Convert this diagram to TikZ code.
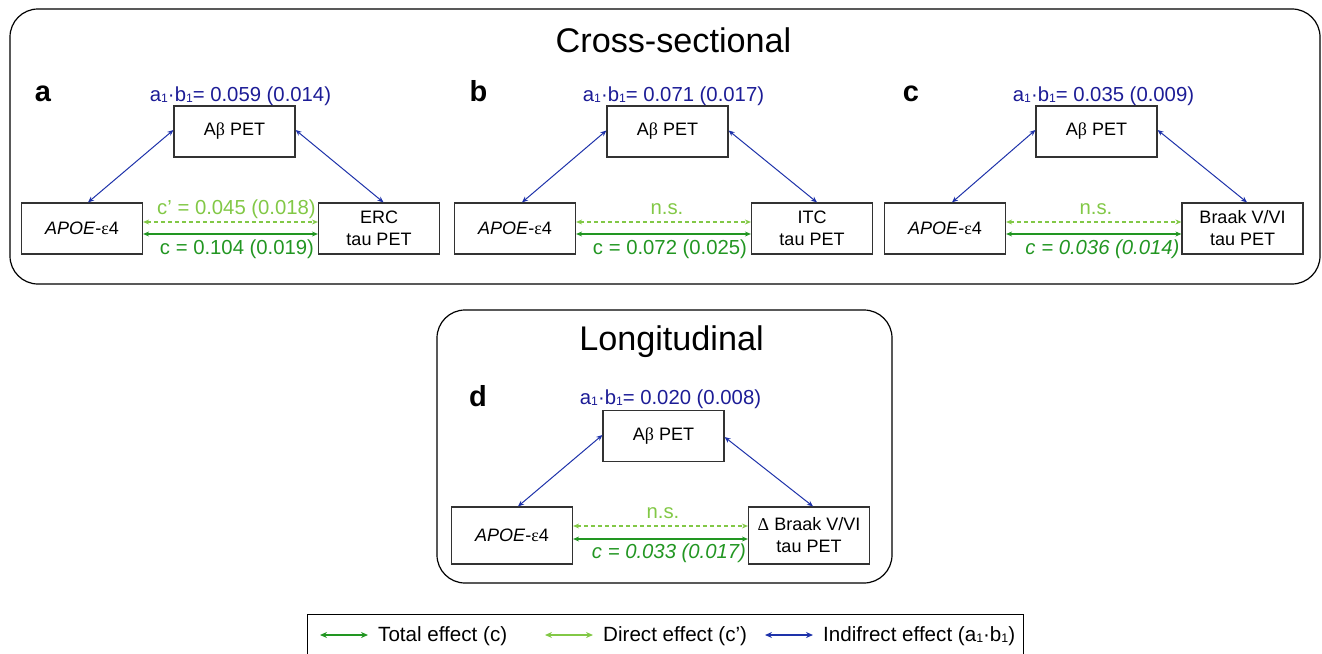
\documentclass[tikz,border=0pt]{standalone}
\usepackage{fontspec}
\usepackage{graphicx}
\setmainfont{Liberation Sans}
\newfontfamily\grk{Liberation Serif}
\usetikzlibrary{arrows.meta}
\definecolor{navy}{RGB}{28,28,150}
\definecolor{arrblue}{RGB}{30,50,170}
\definecolor{dgreen}{RGB}{34,150,34}
\definecolor{lgreen}{RGB}{130,200,70}
\definecolor{boxgray}{RGB}{50,50,50}
\newcommand\sone{\raisebox{-0.1ex}{\scalebox{0.6}{1}}}
\newcommand\abpet{A{\grk β} PET}
\newcommand\apoe{\textit{APOE}-{\grk ε}4}
\tikzset{
  fbox/.style={draw=boxgray, line width=1.2pt, minimum width=121pt, minimum height=51pt, inner sep=0pt, align=center, font=\fontsize{18}{22}\selectfont},
  lab/.style={font=\fontsize{20.3}{24}\selectfont, anchor=base, inner sep=0pt},
  letter/.style={font=\bfseries\fontsize{29}{30}\selectfont, anchor=base, inner sep=0pt},
  ttl/.style={font=\fontsize{34.2}{38}\selectfont, anchor=base, inner sep=0pt},
  tipd/.style={{Stealth[length=6pt,width=5pt]}-{Stealth[length=6pt,width=5pt]}},
  ind/.style={arrblue, line width=1pt, tipd},
  tot/.style={dgreen, line width=1.3pt, tipd},
  dir/.style={lgreen, line width=1.2pt, dash pattern=on 4pt off 3pt, tipd},
  panelframe/.style={draw=black, line width=1.2pt, rounded corners=28pt},
  legtip/.style={{Stealth[length=7pt,width=6pt]}-{Stealth[length=7pt,width=6pt]}, line width=2pt},
  leg/.style={font=\fontsize{20.6}{24}\selectfont, anchor=base west, inner sep=0pt},
}
\begin{document}
\begin{tikzpicture}[x=1pt,y=-1pt]
\useasboundingbox (0,0) rectangle (1322,653);
% frames
\draw[panelframe] (10,9) rectangle (1320,284);
\draw[panelframe] (437,310) rectangle (892,583);
\node[ttl] (t1) at (673.5,52) {Cross-sectional};
\node[ttl] (t2) at (671.5,350) {Longitudinal};

% ---- panel a
\node[letter] (la) at (43,101.5) {a};
\node[lab, navy] (ea) at (240.5,101) {a\sone·b\sone= 0.059 (0.014)};
\node[fbox] (abA) at (234.5,131.5) {\abpet};
\node[fbox] (apA) at (82,228.5) {\apoe};
\node[fbox] (tA) at (379,228.5) {ERC\\tau PET};
\draw[ind] ([xshift=6pt]apA.north) -- ([yshift=1.5pt]abA.west);
\draw[ind] ([yshift=1.5pt]abA.east) -- ([xshift=4.5pt]tA.north);
\draw[dir] ([yshift=6.5pt]apA.east) -- ([yshift=6.5pt]tA.west);
\draw[tot] ([yshift=-5.5pt]apA.east) -- ([yshift=-5.5pt]tA.west);
\node[lab, lgreen] (da) at (236.5,214) {c’ = 0.045 (0.018)};
\node[lab, dgreen] (ca) at (237,254) {c = 0.104 (0.019)};

% ---- panel b
\node[letter] (lb) at (478.5,101.5) {b};
\node[lab, navy] (eb) at (673.5,101) {a\sone·b\sone= 0.071 (0.017)};
\node[fbox] (abB) at (667.5,131.5) {\abpet};
\node[fbox] (apB) at (515,228.5) {\apoe};
\node[fbox] (tB) at (812,228.5) {ITC\\tau PET};
\draw[ind] ([xshift=7pt]apB.north) -- ([yshift=1pt]abB.west);
\draw[ind] ([yshift=1pt]abB.east) -- ([xshift=5pt]tB.north);
\draw[dir] ([yshift=6.5pt]apB.east) -- ([yshift=6.5pt]tB.west);
\draw[tot] ([yshift=-5.5pt]apB.east) -- ([yshift=-5.5pt]tB.west);
\node[lab, lgreen] (db) at (667,214.5) {n.s.};
\node[lab, dgreen] (cb) at (670,254) {c = 0.072 (0.025)};

% ---- panel c
\node[letter] (lc) at (911,101.5) {c};
\node[lab, navy] (ec) at (1103.5,101) {a\sone·b\sone= 0.035 (0.009)};
\node[fbox] (abC) at (1096.5,131.5) {\abpet};
\node[fbox] (apC) at (945,228.5) {\apoe};
\node[fbox] (tC) at (1242.5,228.5) {Braak V/VI\\tau PET};
\draw[ind] ([xshift=7pt]apC.north) -- ([yshift=1.5pt]abC.west);
\draw[ind] ([yshift=1.5pt]abC.east) -- ([xshift=4.5pt]tC.north);
\draw[dir] ([yshift=6.5pt]apC.east) -- ([yshift=6.5pt]tC.west);
\draw[tot] ([yshift=-5.5pt]apC.east) -- ([yshift=-5.5pt]tC.west);
\node[lab, lgreen] (dc) at (1096,214) {n.s.};
\node[lab, dgreen, font=\itshape\fontsize{20.3}{24}\selectfont] (cc) at (1102.5,254) {c = 0.036 (0.014)};

% ---- panel d
\node[letter] (ld) at (478,406.5) {d};
\node[lab, navy] (ed) at (670.5,404) {a\sone·b\sone= 0.020 (0.008)};
\node[fbox] (abD) at (663.5,436) {\abpet};
\node[fbox, minimum height=57pt] (apD) at (512,535.5) {\apoe};
\node[fbox, minimum height=57pt] (tD) at (809,535.5) {{\grk Δ} Braak V/VI\\tau PET};
\draw[ind] ([xshift=6pt]apD.north) -- ([yshift=1pt]abD.west);
\draw[ind] ([yshift=-1pt]abD.east) -- ([xshift=4pt]tD.north);
\draw[dir] ([yshift=9.5pt]apD.east) -- ([yshift=9.5pt]tD.west);
\draw[tot] ([yshift=-3.5pt]apD.east) -- ([yshift=-3.5pt]tD.west);
\node[lab, lgreen] (dd) at (663,518) {n.s.};
\node[lab, dgreen, font=\itshape\fontsize{20.3}{24}\selectfont] (cd) at (669,558) {c = 0.033 (0.017)};

% ---- legend
\draw[line width=1pt] (307,656) -- (307,614) -- (1023,614) -- (1023,656);
\coordinate (g1) at (320,635);
\coordinate (g2) at (368,635);
\coordinate (h1) at (545,635);
\coordinate (h2) at (593,635);
\coordinate (k1) at (765,635);
\coordinate (k2) at (813,635);
\draw[legtip, dgreen] (g1) -- (g2);
\draw[legtip, lgreen] (h1) -- (h2);
\draw[legtip, arrblue] (k1) -- (k2);
\node[leg] (lg1) at (378,641) {Total effect (c)};
\node[leg] (lg2) at (603,641) {Direct effect (c’)};
\node[leg] (lg3) at (823,641) {Indifrect effect (a\sone·b\sone)};
\end{tikzpicture}
\end{document}
